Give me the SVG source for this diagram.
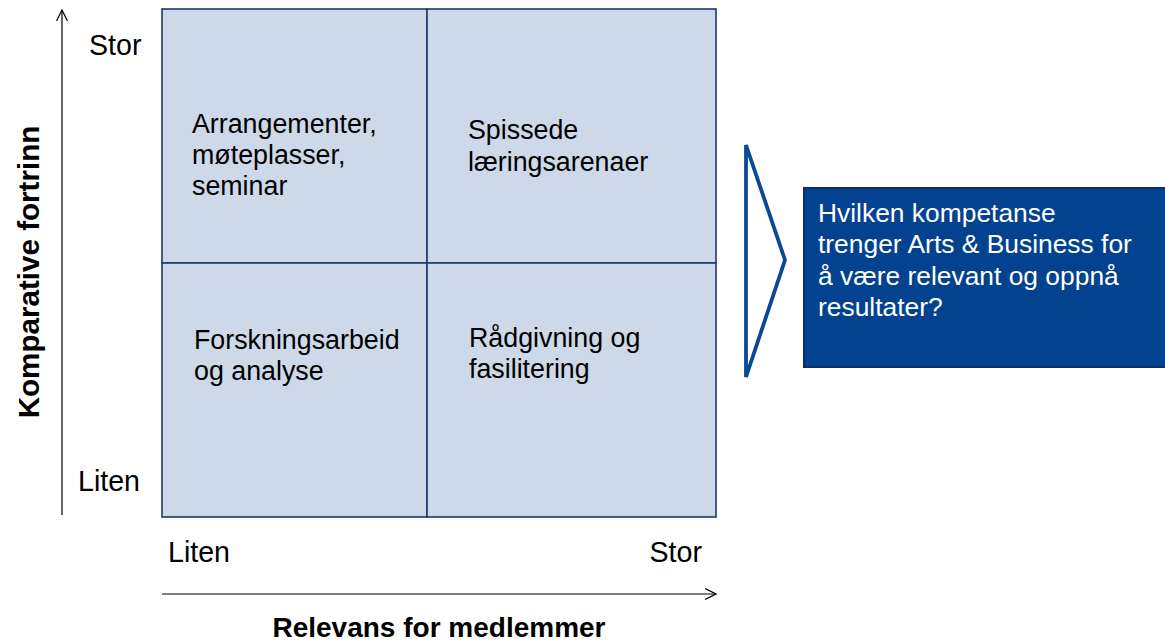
<svg xmlns="http://www.w3.org/2000/svg" width="1165" height="641" viewBox="0 0 1165 641">
<style>
  text { font-family: "Liberation Sans", Arial, sans-serif; fill: #000; }
  .ax { font-size: 28.6px; }
  .q { font-size: 26.8px; }
  .ttl { font-size: 28px; font-weight: bold; }
  .ttlv { font-size: 29.6px; font-weight: bold; }
  .box { font-size: 26.4px; fill: #fff; }
  .cell { fill: #CDD8E8; stroke: #1B3A6B; stroke-width: 1.6; }
  .axis { stroke: #000; stroke-width: 1.2; fill: none; }
</style>
<defs>
  <marker id="open" viewBox="0 0 12 12" refX="11" refY="6" markerWidth="12" markerHeight="12" markerUnits="userSpaceOnUse" orient="auto">
    <path d="M0,0.5 L11,6 L0,11.5" fill="none" stroke="#000" stroke-width="1.2"/>
  </marker>
</defs>
<rect width="1165" height="641" fill="#fff"/>

<g id="connectors">
  <line class="axis" x1="62" y1="515" x2="62" y2="10" marker-end="url(#open)"/>
  <line class="axis" x1="162" y1="594" x2="716" y2="594" marker-end="url(#open)"/>
  <polygon points="746,145 785,260 746,377" fill="#fff" stroke="#0C4897" stroke-width="3.8" stroke-linejoin="miter"/>
</g>

<g id="quadrant-tl">
  <rect class="cell" x="162" y="9" width="265" height="254"/>
  <text class="q" x="192" y="133">Arrangementer,</text>
  <text class="q" x="192" y="164">møteplasser,</text>
  <text class="q" x="192" y="195">seminar</text>
</g>
<g id="quadrant-tr">
  <rect class="cell" x="427" y="9" width="289" height="254"/>
  <text class="q" x="468" y="139">Spissede</text>
  <text class="q" x="468" y="171">læringsarenaer</text>
</g>
<g id="quadrant-bl">
  <rect class="cell" x="162" y="263" width="265" height="254"/>
  <text class="q" x="194" y="349">Forskningsarbeid</text>
  <text class="q" x="194" y="380">og analyse</text>
</g>
<g id="quadrant-br">
  <rect class="cell" x="427" y="263" width="289" height="254"/>
  <text class="q" x="469" y="347">Rådgivning og</text>
  <text class="q" x="469" y="378">fasilitering</text>
</g>

<g id="y-labels">
  <text class="ax" x="89" y="55">Stor</text>
  <text class="ax" x="78" y="491">Liten</text>
  <text class="ttlv" transform="translate(39,272) rotate(-90)" text-anchor="middle">Komparative fortrinn</text>
</g>
<g id="x-labels">
  <text class="ax" x="168" y="562">Liten</text>
  <text class="ax" x="702" y="562" text-anchor="end">Stor</text>
  <text class="ttl" x="439" y="637" text-anchor="middle">Relevans for medlemmer</text>
</g>

<g id="question-box">
  <rect x="804" y="188" width="364" height="179" fill="#02428F" stroke="#0A2F66" stroke-width="2"/>
  <text class="box" x="818" y="222">Hvilken kompetanse</text>
  <text class="box" x="818" y="253">trenger Arts &amp; Business for</text>
  <text class="box" x="818" y="285">å være relevant og oppnå</text>
  <text class="box" x="818" y="316">resultater?</text>
</g>
</svg>
